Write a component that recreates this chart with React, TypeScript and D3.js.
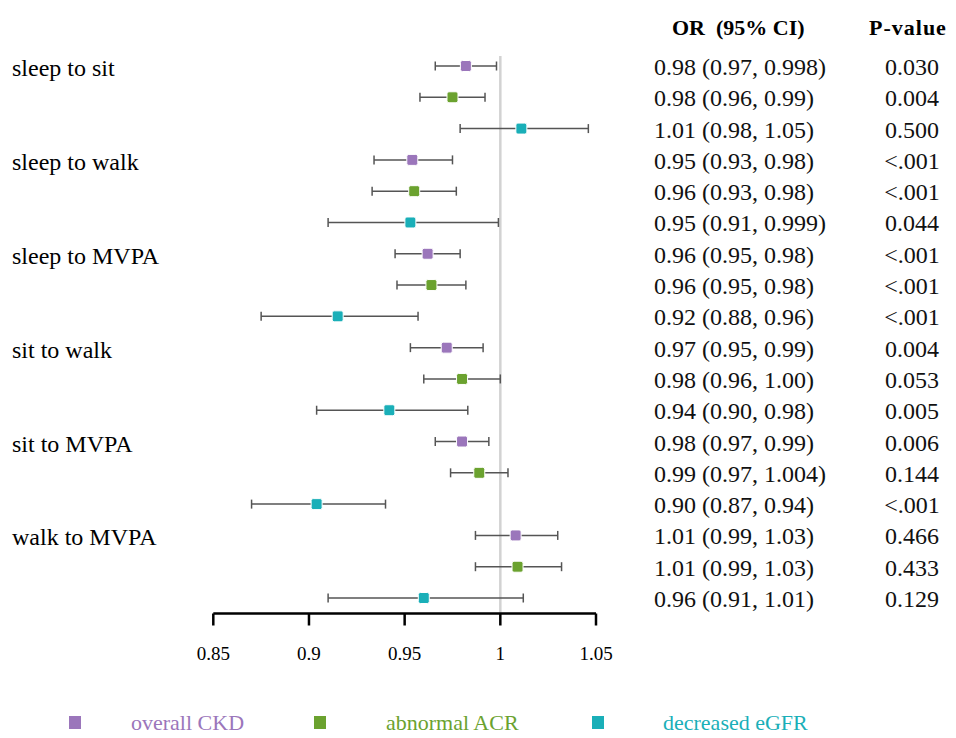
import React from "react";
import * as d3 from "d3";

const groups = ["sleep to sit", "sleep to walk", "sleep to MVPA", "sit to walk", "sit to MVPA", "walk to MVPA"];
const outcomes = ["overall CKD", "abnormal ACR", "decreased eGFR"];
const outcomeColors = ["#9b76bb", "#6ba22f", "#1aafb8"];

const orValues = [0.982, 0.975, 1.011, 0.954, 0.955, 0.953, 0.962, 0.964, 0.915, 0.972, 0.98, 0.942, 0.98, 0.989, 0.904, 1.008, 1.009, 0.96];
const lowerCI = [0.966, 0.958, 0.979, 0.934, 0.933, 0.91, 0.945, 0.946, 0.875, 0.953, 0.96, 0.904, 0.966, 0.974, 0.87, 0.987, 0.987, 0.91];
const upperCI = [0.998, 0.992, 1.046, 0.975, 0.977, 0.999, 0.979, 0.982, 0.957, 0.991, 1.0, 0.983, 0.994, 1.004, 0.94, 1.03, 1.032, 1.012];

const orLabels = [
  "0.98 (0.97, 0.998)", "0.98 (0.96, 0.99)", "1.01 (0.98, 1.05)",
  "0.95 (0.93, 0.98)", "0.96 (0.93, 0.98)", "0.95 (0.91, 0.999)",
  "0.96 (0.95, 0.98)", "0.96 (0.95, 0.98)", "0.92 (0.88, 0.96)",
  "0.97 (0.95, 0.99)", "0.98 (0.96, 1.00)", "0.94 (0.90, 0.98)",
  "0.98 (0.97, 0.99)", "0.99 (0.97, 1.004)", "0.90 (0.87, 0.94)",
  "1.01 (0.99, 1.03)", "1.01 (0.99, 1.03)", "0.96 (0.91, 1.01)",
];
const pLabels = [
  "0.030", "0.004", "0.500", "<.001", "<.001", "0.044",
  "<.001", "<.001", "<.001", "0.004", "0.053", "0.005",
  "0.006", "0.144", "<.001", "0.466", "0.433", "0.129",
];
const xTicks = [0.85, 0.9, 0.95, 1, 1.05];

const FONT = "'Liberation Serif', 'Times New Roman', serif";

export default function App() {
  const W = 956, H = 738;
  const x = d3.scaleLinear().domain([0.85, 1.05]).range([213.3, 596]);
  const y = d3.scaleLinear().domain([0, orValues.length - 1]).range([66, 598]);
  const axisY = 613.5;
  const sq = 11;
  const cap = 4.5;

  return (
    <svg width={W} height={H} style={{ position: "absolute", left: 0, top: 0, background: "#fff" }} fontFamily={FONT}>
      <rect width={W} height={H} fill="#fff" />
      {/* reference line */}
      <line x1={x(1)} x2={x(1)} y1={56} y2={axisY} stroke="#d2d2d2" strokeWidth={2.5} />

      {/* group labels */}
      {groups.map((g, gi) => (
        <text key={g} x={12} y={y(gi * 3) + 10} fontSize={24} fill="#000">{g}</text>
      ))}

      {/* CI whiskers and points */}
      {orValues.map((v, i) => {
        const yy = y(i);
        const col = outcomeColors[i % 3];
        return (
          <g key={i}>
            <line x1={x(lowerCI[i])} x2={x(upperCI[i])} y1={yy} y2={yy} stroke="#555" strokeWidth={1.5} />
            <line x1={x(lowerCI[i])} x2={x(lowerCI[i])} y1={yy - cap} y2={yy + cap} stroke="#555" strokeWidth={1.5} />
            <line x1={x(upperCI[i])} x2={x(upperCI[i])} y1={yy - cap} y2={yy + cap} stroke="#555" strokeWidth={1.5} />
            <rect x={x(v) - sq / 2} y={yy - sq / 2} width={sq} height={sq} rx={2} fill={col} stroke="#fff" strokeWidth={1} />
          </g>
        );
      })}

      {/* x axis */}
      <line x1={x(0.85)} x2={x(1.05)} y1={axisY} y2={axisY} stroke="#000" strokeWidth={2.5} />
      {xTicks.map((t) => (
        <g key={t}>
          <line x1={x(t)} x2={x(t)} y1={axisY} y2={axisY + 12} stroke="#000" strokeWidth={2.5} />
          <text x={x(t)} y={660} fontSize={19} textAnchor="middle" fill="#000">{String(t)}</text>
        </g>
      ))}

      {/* table headers */}
      <text x={672} y={35} fontSize={22} fontWeight="bold" fill="#000" style={{ whiteSpace: "pre" }}>{"OR  (95% CI)"}</text>
      <text x={869} y={35} fontSize={22} fontWeight="bold" letterSpacing={1} fill="#000">P-value</text>

      {/* table rows */}
      {orLabels.map((s, i) => (
        <text key={"or" + i} x={654} y={y(i) + 9} fontSize={24} fill="#111">{s}</text>
      ))}
      {pLabels.map((s, i) => (
        <text key={"p" + i} x={912} y={y(i) + 9} fontSize={24} textAnchor="middle" fill="#111">{s}</text>
      ))}

      {/* legend */}
      {outcomes.map((o, i) => {
        const lx = [69, 314, 592][i];
        const tx = [131, 386, 663][i];
        return (
          <g key={o}>
            <rect x={lx} y={716} width={12} height={13} fill={outcomeColors[i]} />
            <text x={tx} y={730} fontSize={22} fill={outcomeColors[i]}>{o}</text>
          </g>
        );
      })}
    </svg>
  );
}
